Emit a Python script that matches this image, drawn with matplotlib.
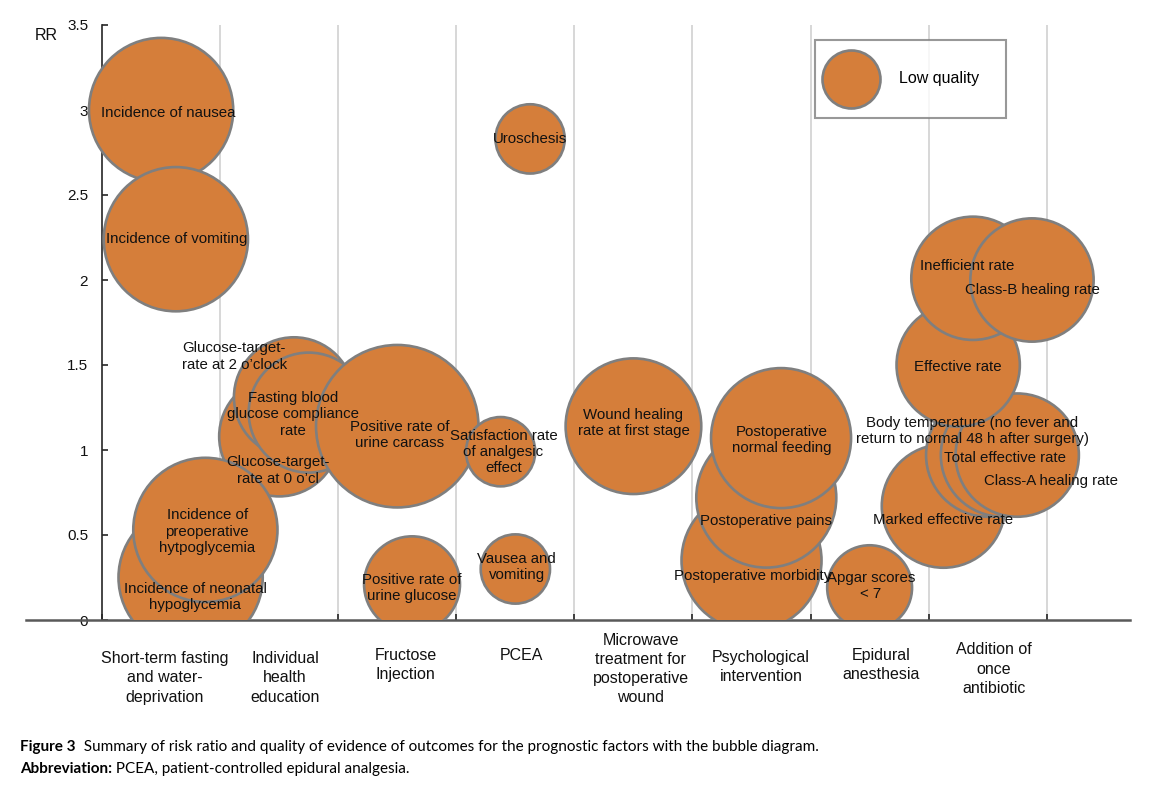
import matplotlib

matplotlib.use("Agg")
import matplotlib.pyplot as plt
import matplotlib.transforms as mtransforms

plt.rcParams["font.family"] = ["Liberation Sans", "DejaVu Sans"]

# outcomes, in drawing order (later ones sit on top)
outcomes = [
    "Incidence of nausea",
    "Incidence of vomiting",
    "Glucose-target-\nrate at 0 o\u2019cl",
    "Glucose-target-\nrate at 2 o\u2019clock",
    "Fasting blood\nglucose compliance\nrate",
    "Incidence of neonatal\nhypoglycemia",
    "Incidence of\npreoperative\nhytpoglycemia",
    "Positive rate of\nurine carcass",
    "Positive rate of\nurine glucose",
    "Satisfaction rate\nof analgesic\neffect",
    "Vausea and\nvomiting",
    "Uroschesis",
    "Wound healing\nrate at first stage",
    "Postoperative morbidity",
    "Postoperative pains",
    "Postoperative\nnormal feeding",
    "Apgar scores\n< 7",
    "Marked effective rate",
    "Body temperature (no fever and\nreturn to normal 48 h after surgery)",
    "Total effective rate",
    "Class-A healing rate",
    "Effective rate",
    "Inefficient rate",
    "Class-B healing rate",
]
bubble_x = [0.5, 0.625, 1.5, 1.625, 1.75, 0.75, 0.875, 2.5, 2.625, 3.375, 3.5, 3.625,
            4.5, 5.5, 5.625, 5.75, 6.5, 7.125, 7.5, 7.625, 7.75, 7.25, 7.375, 7.875]
rr = [3.0, 2.24, 1.08, 1.31, 1.22, 0.25, 0.53, 1.14, 0.21, 0.99, 0.30, 2.83,
      1.14, 0.35, 0.72, 1.07, 0.19, 0.67, 0.97, 0.97, 0.97, 1.50, 2.01, 2.00]
bubble_size = [52, 52, 36, 36, 36, 52, 52, 66, 23, 12, 12, 12,
               46, 49, 49, 49, 18, 38, 38, 38, 38, 38, 38, 38]

categories = [
    "Short-term fasting\nand water-\ndeprivation",
    "Individual\nhealth\neducation",
    "Fructose\nInjection",
    "PCEA",
    "Microwave\ntreatment for\npostoperative\nwound",
    "Psychological\nintervention",
    "Epidural\nanesthesia",
    "Addition of\nonce\nantibiotic",
]
y_ticks = [0, 0.5, 1, 1.5, 2, 2.5, 3, 3.5]

# where each bubble label sits (data coords)
label_x = [0.56, 0.63, 1.49, 1.12, 1.62, 0.79, 0.89, 2.52, 2.62, 3.40, 3.51, 3.62,
           4.50, 5.51, 5.62, 5.76, 6.51, 7.12, 7.37, 7.65, 8.04, 7.25, 7.33, 7.88]
label_y = [2.98, 2.24, 0.88, 1.55, 1.21, 0.135, 0.52, 1.09, 0.19, 0.99, 0.31, 2.83,
           1.16, 0.26, 0.58, 1.06, 0.20, 0.59, 1.11, 0.95, 0.82, 1.49, 2.08, 1.94]
# category label placement: x in data, y in pixels from the figure top
cat_x = [0.53, 1.55, 2.57, 3.55, 4.56, 5.58, 6.60, 7.55]
cat_y_px = [678, 678, 665, 655, 669, 667, 665, 669]

FILL = "#D57E3A"
EDGE = "#7F7F7F"
W, H = 1164, 789
# bubble_size ~ (radius in px / 10)^2 ; scatter wants (diameter in pt)^2 at 100 dpi
SIZE_SCALE = (2 * 10 * 0.72) ** 2

fig = plt.figure(figsize=(W / 100, H / 100), dpi=100)
ax = fig.add_axes([26 / W, 1 - 620 / H, (1130 - 26) / W, (620 - 25) / H])
ax.set_xlim(-0.644, 8.705)
ax.set_ylim(0, 3.5)

ax.scatter(bubble_x, rr, s=[v * SIZE_SCALE for v in bubble_size], c=FILL,
           edgecolors=EDGE, linewidths=1.9, zorder=3, label="Low quality")

for text, lx, ly in zip(outcomes, label_x, label_y):
    ax.text(lx, ly, text, ha="center", va="center", fontsize=10.8,
            linespacing=1.2, color="#111111", zorder=5)

# frame: y axis at x=0, x axis at y=0, grey vertical grid at category borders
for side in ("top", "right"):
    ax.spines[side].set_visible(False)
ax.spines["left"].set_position(("data", 0))
ax.spines["left"].set_color("#262626")
ax.spines["left"].set_linewidth(1.2)
ax.spines["bottom"].set_color("#595959")
ax.spines["bottom"].set_linewidth(1.8)
ax.spines["left"].set_zorder(1)

ax.set_xticks(range(0, 9))
ax.set_xticklabels([])
ax.set_yticks(y_ticks)
ax.set_yticklabels([f"{v:g}" for v in y_ticks])
ax.tick_params(axis="both", direction="in", length=4, width=1.2, colors="#262626",
               labelsize=11, labelcolor="#111111")
ax.tick_params(axis="y", pad=10)
for gx in range(1, 9):
    ax.axvline(gx, color="#D4D4D4", linewidth=1.3, zorder=0)

ax.text(-0.47, 3.44, "RR", fontsize=11.5, ha="center", va="center", color="#111111")

blend = mtransforms.blended_transform_factory(ax.transData, fig.transFigure)
for name, cx, cy in zip(categories, cat_x, cat_y_px):
    ax.text(cx, 1 - cy / H, name, transform=blend, ha="center", va="center",
            fontsize=11.5, linespacing=1.34, color="#111111", clip_on=False)

# legend box stretched to the 191 px wide frame of the original
leg = ax.legend(loc="upper left",
                bbox_to_anchor=(815 / W, 1 - 118 / H, 191 / W, 78 / H),
                bbox_transform=fig.transFigure, mode="expand", borderaxespad=0,
                fancybox=False, fontsize=11.5, scatterpoints=1,
                scatteryoffsets=[0.057], handlelength=3.6, handleheight=5.75,
                handletextpad=1.2, borderpad=0.45)
leg.legend_handles[0].set_sizes([(2 * 29 * 0.72) ** 2])
leg.get_frame().set_edgecolor("#7F7F7F")
leg.get_frame().set_linewidth(1.5)

cap1 = fig.text(20 / W, 1 - 747 / H, "Figure 3", family="Lato", weight="bold",
                fontsize=11, va="center")
ax.annotate("  Summary of risk ratio and quality of evidence of outcomes for the prognostic "
            "factors with the bubble diagram.", xy=(1, 0), xycoords=cap1, va="bottom",
            family="Lato", fontsize=11)
cap2 = fig.text(20 / W, 1 - 769 / H, "Abbreviation:", family="Lato", weight="bold",
                fontsize=11, va="center")
ax.annotate(" PCEA, patient-controlled epidural analgesia.", xy=(1, 0), xycoords=cap2,
            va="bottom", family="Lato", fontsize=11)

fig.savefig("out.png", dpi=100)
